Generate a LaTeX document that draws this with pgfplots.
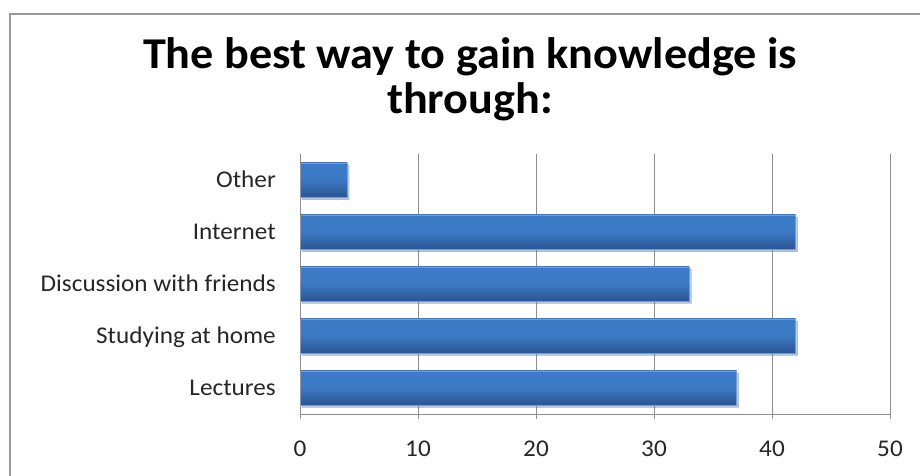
\documentclass[border=0pt]{standalone}
\usepackage{fontspec}
\setmainfont{Carlito}[FakeStretch=1.05]
\usepackage{pgfplots}
\pgfplotsset{compat=1.18}
\usetikzlibrary{shadows}
\definecolor{barTop}{HTML}{3C7CC7}
\definecolor{barBot}{HTML}{2A5692}
\definecolor{framec}{HTML}{999999}
\definecolor{gridc}{HTML}{8E8E8E}
\pgfplotsset{
  mybar/.style={draw=barBot!60, line width=0.3pt, top color=barTop, bottom color=barBot, middle color=barTop!92!barBot,
    drop shadow={opacity=0.22, shadow xshift=2pt, shadow yshift=-2.5pt}},
}
\begin{document}
\begin{tikzpicture}
\useasboundingbox (0pt,0pt) rectangle (920pt,476pt);
\draw[framec, line width=2pt] (9.5pt,-5pt) -- (9.5pt,461.5pt) -- (925pt,461.5pt);
\node[font=\bfseries\fontsize{44}{45}\selectfont, align=center, anchor=center] at (470pt,397pt) {The best way to gain knowledge is\\through:};
\begin{axis}[
  at={(300pt,62pt)}, anchor=south west,
  scale only axis, width=590pt, height=260pt,
  xmin=0, xmax=50, ymin=-0.5, ymax=4.5,
  xtick={0,10,...,50},
  ytick={0,1,2,3,4},
  yticklabels={Lectures,Studying at home,Discussion with friends,Internet,Other},
  axis x line*=bottom, axis y line*=left,
  axis line style={gridc, line width=0.8pt},
  xmajorgrids, grid style={gridc, line width=0.8pt},
  tick align=outside, major tick length=5pt,
  x tick style={gridc, line width=0.8pt},
  y tick style={draw=none},
  tick label style={font=\fontsize{24}{28}\selectfont, text=black!85, inner sep=0pt},
  xticklabel style={anchor=base, yshift=-38pt},
  yticklabel style={anchor=base east, yshift=-7.7pt, xshift=-19pt},
  /pgf/number format/assume math mode=true,
  xbar, bar width=34pt, bar shift=0pt,
]
\addplot[mybar] coordinates {(37,0)};
\addplot[mybar] coordinates {(42,1)};
\addplot[mybar] coordinates {(33,2)};
\addplot[mybar] coordinates {(42,3)};
\addplot[mybar] coordinates {(4,4)};
\draw[gridc, line width=0.8pt] (axis cs:50,-0.5) -- (axis cs:50,4.5);
\end{axis}
\end{tikzpicture}
\end{document}
